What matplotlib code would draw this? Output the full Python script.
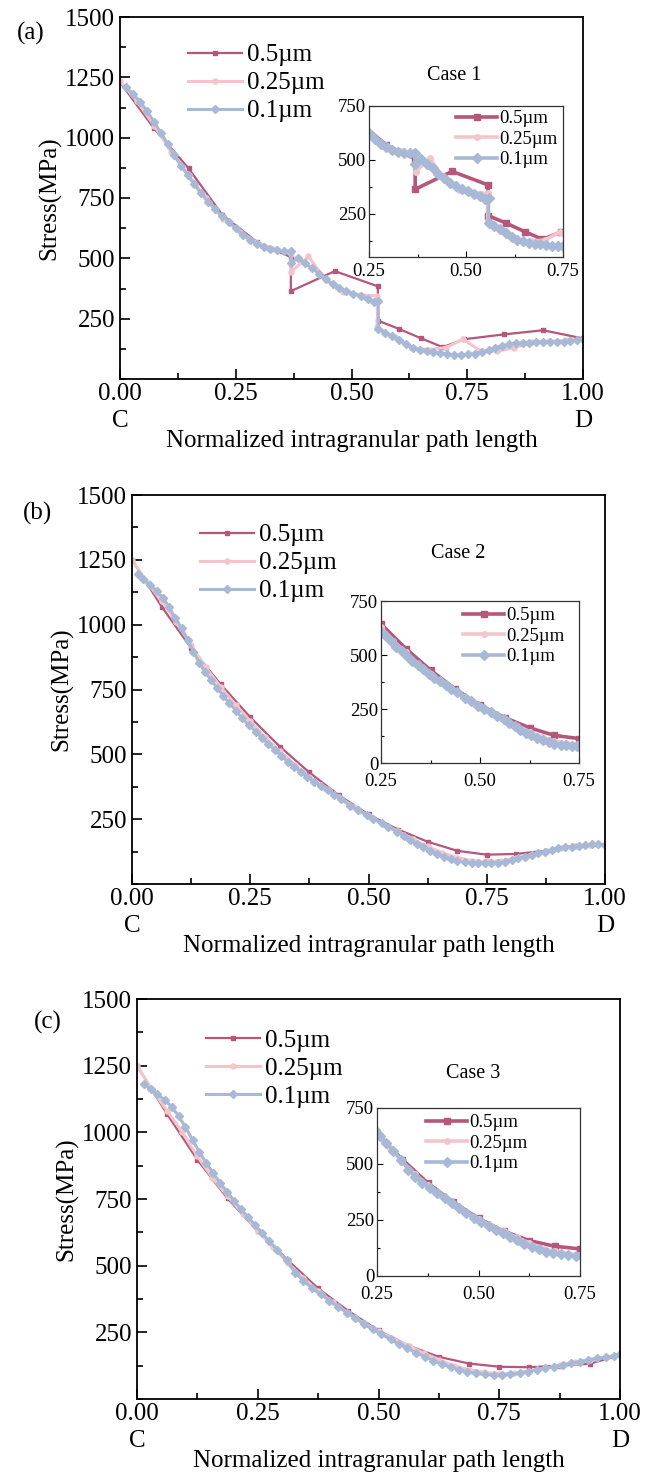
import numpy as np
import matplotlib.pyplot as plt
from matplotlib.ticker import MultipleLocator

plt.rcParams['font.family'] = ['Liberation Serif', 'DejaVu Serif']

labels = ['0.5\u00b5m', '0.25\u00b5m', '0.1\u00b5m']
colors = ['#B5567A', '#F3C5CB', '#A7B9D6']
markers = ['s', 'o', 'D']
cases = ['Case 1', 'Case 2', 'Case 3']
panel_tags = ['(a)', '(b)', '(c)']

# ---------------- panel (a) ----------------
xa_05 = [0, 0.073, 0.148, 0.221, 0.295, 0.369, 0.369, 0.464, 0.557, 0.557, 0.602, 0.651,
         0.697, 0.744, 0.830, 0.914, 1.0]
ya_05 = [1230, 1040, 873, 680, 569, 505, 364, 447, 384, 242, 208, 168,
         132, 165, 185, 202, 168]

xa_025 = [0, 0.037, 0.074, 0.111, 0.148, 0.185, 0.222, 0.259, 0.296, 0.333, 0.370, 0.370,
          0.407, 0.444, 0.481, 0.519, 0.556, 0.556, 0.593, 0.630, 0.667, 0.704, 0.741,
          0.778, 0.815, 0.852, 0.889, 0.926, 0.963, 1.0]
ya_025 = [1235, 1150, 1050, 940, 845, 750, 665, 610, 565, 540, 520, 445,
          508, 410, 362, 348, 345, 215, 172, 128, 122, 130, 165,
          117, 115, 130, 152, 157, 160, 165]

xa_01 = [0.012, 0.029, 0.043, 0.058, 0.073, 0.089, 0.103, 0.117, 0.132, 0.146, 0.160, 0.175,
         0.191, 0.205, 0.221, 0.236, 0.250, 0.266, 0.281, 0.295, 0.310, 0.325, 0.340, 0.355,
         0.369, 0.369, 0.384, 0.400, 0.414, 0.429, 0.444, 0.459, 0.474, 0.489, 0.504, 0.520,
         0.535, 0.549, 0.558, 0.558, 0.573, 0.588, 0.603, 0.618, 0.632, 0.647, 0.662, 0.677,
         0.692, 0.707, 0.721, 0.736, 0.751, 0.766, 0.781, 0.796, 0.810, 0.825, 0.840, 0.855,
         0.870, 0.884, 0.899, 0.914, 0.929, 0.944, 0.958, 0.973, 0.988, 1.0]
ya_01 = [1210, 1181, 1149, 1112, 1066, 1018, 974, 928, 884, 845, 808, 769,
         735, 703, 675, 652, 624, 597, 576, 559, 548, 537, 534, 530,
         530, 480, 502, 480, 461, 437, 415, 393, 379, 365, 354, 344,
         331, 319, 322, 206, 192, 178, 162, 145, 130, 122, 117, 112,
         108, 104, 99, 100, 102, 104, 110, 120, 130, 138, 144, 148,
         150, 151, 152, 152, 152, 152, 154, 158, 161, 165]

# ---------------- panel (b) ----------------
xb_05 = [0, 0.0625, 0.125, 0.1875, 0.25, 0.3125, 0.375, 0.4375, 0.5, 0.5625, 0.625, 0.6875,
         0.75, 0.8125, 0.875, 0.9375, 1.0]
yb_05 = [1250, 1070, 910, 770, 643, 530, 430, 342, 268, 210, 163, 128,
         113, 116, 128, 148, 150]

xb_025 = [0, 0.031, 0.0625, 0.094, 0.125, 0.156, 0.1875, 0.219, 0.25, 0.281, 0.3125, 0.344,
          0.375, 0.406, 0.4375, 0.469, 0.5, 0.531, 0.5625, 0.594, 0.625, 0.656, 0.6875,
          0.719, 0.75, 0.781, 0.8125, 0.844, 0.875, 0.906, 0.9375, 0.969, 1.0]
yb_025 = [1250, 1165, 1090, 1010, 920, 835, 760, 690, 628, 565, 512, 460,
          412, 372, 335, 298, 263, 232, 203, 172, 145, 120, 102,
          90, 87, 90, 100, 113, 126, 137, 145, 150, 152]

xb_01 = [0.012, 0.024, 0.038, 0.052, 0.066, 0.079, 0.091, 0.105, 0.118, 0.130, 0.142, 0.154,
         0.167, 0.180, 0.193, 0.206, 0.220, 0.233, 0.247, 0.262, 0.274, 0.288, 0.302, 0.316,
         0.329, 0.343, 0.357, 0.371, 0.385, 0.400, 0.414, 0.428, 0.442, 0.461, 0.478, 0.496,
         0.510, 0.528, 0.542, 0.560, 0.574, 0.588, 0.602, 0.616, 0.630, 0.645, 0.660, 0.674,
         0.688, 0.704, 0.718, 0.732, 0.746, 0.760, 0.774, 0.789, 0.803, 0.817, 0.831, 0.845,
         0.859, 0.873, 0.887, 0.901, 0.915, 0.930, 0.944, 0.958, 0.972, 0.986, 1.0]
yb_01 = [1195, 1175, 1153, 1131, 1102, 1067, 1025, 986, 941, 896, 853, 819,
         787, 757, 725, 697, 668, 639, 613, 587, 564, 539, 517, 494,
         472, 452, 433, 414, 394, 378, 362, 343, 328, 301, 285, 266,
         251, 234, 219, 202, 185, 170, 154, 141, 128, 116, 105, 98,
         90, 84, 82, 80, 80, 80, 82, 86, 93, 99, 105, 112,
         118, 125, 131, 138, 141, 144, 148, 150, 153, 154, 150]

# ---------------- panel (c) ----------------
xc_05 = [0, 0.0625, 0.125, 0.1875, 0.25, 0.3125, 0.375, 0.4375, 0.5, 0.5625, 0.625, 0.6875,
         0.75, 0.8125, 0.875, 0.9375, 1.0]
yc_05 = [1250, 1068, 897, 752, 630, 520, 415, 330, 257, 200, 158, 133,
         121, 119, 125, 132, 165]

xc_025 = [0, 0.031, 0.0625, 0.094, 0.125, 0.156, 0.1875, 0.219, 0.25, 0.281, 0.3125, 0.344,
          0.375, 0.406, 0.4375, 0.469, 0.5, 0.531, 0.5625, 0.594, 0.625, 0.656, 0.6875,
          0.719, 0.75, 0.781, 0.8125, 0.844, 0.875, 0.906, 0.9375, 0.969, 1.0]
yc_025 = [1250, 1160, 1080, 1000, 910, 830, 760, 695, 630, 570, 510, 455,
          405, 362, 322, 286, 255, 225, 200, 172, 148, 125, 110,
          100, 95, 97, 105, 115, 127, 138, 148, 157, 166]

xc_01 = [0.014, 0.029, 0.042, 0.057, 0.072, 0.086, 0.100, 0.115, 0.129, 0.143, 0.158, 0.172,
         0.186, 0.201, 0.215, 0.230, 0.244, 0.258, 0.273, 0.290, 0.310, 0.327, 0.344, 0.362,
         0.380, 0.398, 0.417, 0.434, 0.452, 0.469, 0.488, 0.506, 0.525, 0.542, 0.560, 0.577,
         0.596, 0.613, 0.631, 0.650, 0.667, 0.684, 0.702, 0.720, 0.739, 0.756, 0.773, 0.792,
         0.809, 0.828, 0.845, 0.864, 0.881, 0.898, 0.917, 0.934, 0.952, 0.970, 0.987, 1.0]
yc_01 = [1181, 1161, 1144, 1121, 1096, 1061, 1021, 971, 927, 886, 846, 811,
         777, 744, 712, 682, 653, 624, 594, 560, 520, 474, 444, 417,
         393, 369, 346, 324, 303, 281, 261, 243, 224, 206, 190, 174,
         159, 144, 131, 119, 109, 101, 96, 92, 90, 90, 92, 96,
         103, 109, 115, 121, 128, 134, 140, 146, 153, 156, 162, 168]

panels = [
    [(xa_05, ya_05), (xa_025, ya_025), (xa_01, ya_01)],
    [(xb_05, yb_05), (xb_025, yb_025), (xb_01, yb_01)],
    [(xc_05, yc_05), (xc_025, yc_025), (xc_01, yc_01)],
]

W, H = 651, 1474
fig = plt.figure(figsize=(W / 100, H / 100), dpi=100)


def px_rect(l, t, r, b):
    return [l / W, 1 - b / H, (r - l) / W, (b - t) / H]


# boxes in pixels: left, top, right, bottom
main_boxes = [(120, 17, 583, 379), (132, 495, 605, 884), (137, 999, 620, 1399)]
inset_boxes = [(369, 106, 563, 257), (381, 601, 579, 763), (377, 1108, 580, 1276)]
inset_ylim = [(50, 750), (0, 750), (0, 750)]
legend_pos = [(188, 44), (200, 524), (206, 1029)]
inset_legend_pos = [(456, 110), (463, 607), (426, 1114)]
case_pos = [(454, 75), (458, 553), (473, 1074)]
tag_pos = [(31, 33), (37, 513), (48, 1022)]
FS = 18

for k in range(3):
    ax = fig.add_axes(px_rect(*main_boxes[k]))
    for i, (x, y) in enumerate(panels[k]):
        lw = 1.6 if i == 0 else 2.2
        ms = 3.2 if i == 0 else (3.6 if i == 1 else 4.2)
        ax.plot(x, y, color=colors[i], marker=markers[i], lw=lw, ms=ms,
                mec=colors[i], mfc=colors[i], label=labels[i])
    ax.set_xlim(0, 1)
    ax.set_ylim(0, 1500)
    ax.set_xticks([0, 0.25, 0.5, 0.75, 1.0])
    ax.set_xticklabels(['0.00', '0.25', '0.50', '0.75', '1.00'])
    ax.set_yticks([250, 500, 750, 1000, 1250, 1500])
    ax.xaxis.set_minor_locator(MultipleLocator(0.125))
    ax.yaxis.set_minor_locator(MultipleLocator(125))
    ax.tick_params(which='both', direction='in', top=False, right=False, labelsize=FS, width=1.2)
    ax.tick_params(which='major', length=7)
    ax.tick_params(which='minor', length=4)
    ax.tick_params(axis='x', pad=3)
    for s in ax.spines.values():
        s.set_linewidth(1.3)
    ax.set_ylabel('Stress(MPa)', fontsize=FS, labelpad=3)
    ax.set_xlabel('Normalized intragranular path length', fontsize=FS, labelpad=18)
    ax.annotate('C', xy=(0, 0), xycoords='axes fraction', xytext=(0, -22),
                textcoords='offset points', ha='center', va='top', fontsize=FS)
    ax.annotate('D', xy=(1, 0), xycoords='axes fraction', xytext=(0, -22),
                textcoords='offset points', ha='center', va='top', fontsize=FS)
    lx, ly = legend_pos[k]
    ax.legend(loc='upper left', bbox_to_anchor=(lx / W, 1 - ly / H),
              bbox_transform=fig.transFigure, frameon=False, fontsize=FS,
              handlelength=2.15, handletextpad=0.2, labelspacing=0.22,
              borderpad=0, borderaxespad=0)

    fig.text(case_pos[k][0] / W, 1 - case_pos[k][1] / H, cases[k], fontsize=14.5,
             ha='center', va='center')
    fig.text(tag_pos[k][0] / W, 1 - tag_pos[k][1] / H, panel_tags[k], fontsize=18,
             ha='center', va='center')

    # inset with the middle part of the path
    ins = fig.add_axes(px_rect(*inset_boxes[k]))
    for i, (x, y) in enumerate(panels[k]):
        ms = 3.8 if i == 0 else (4.0 if i == 1 else 4.6)
        ins.plot(x, y, color=colors[i], marker=markers[i], lw=2.6, ms=ms,
                 mec=colors[i], mfc=colors[i], label=labels[i])
    ins.set_xlim(0.25, 0.75)
    ins.set_ylim(*inset_ylim[k])
    ins.set_xticks([0.25, 0.5, 0.75])
    ins.set_xticklabels(['0.25', '0.50', '0.75'])
    if k == 0:
        ins.set_yticks([250, 500, 750])
    else:
        ins.set_yticks([0, 250, 500, 750])
    ins.xaxis.set_minor_locator(MultipleLocator(0.125))
    ins.yaxis.set_minor_locator(MultipleLocator(125))
    ins.tick_params(which='both', direction='in', top=False, right=False, labelsize=13.5,
                    width=0.8, pad=2)
    ins.tick_params(axis='x', pad=4 if k == 0 else 7)
    ins.tick_params(which='major', length=4)
    ins.tick_params(which='minor', length=2.5)
    for s in ins.spines.values():
        s.set_linewidth(0.9)
        s.set_color('#333333')
    ix, iy = inset_legend_pos[k]
    ins.legend(loc='upper left', bbox_to_anchor=(ix / W, 1 - iy / H),
               bbox_transform=fig.transFigure, frameon=False, fontsize=13.5,
               handlelength=2.2, handletextpad=0.12, labelspacing=0.18,
               borderpad=0, borderaxespad=0)

fig.savefig('out.png', dpi=100)
